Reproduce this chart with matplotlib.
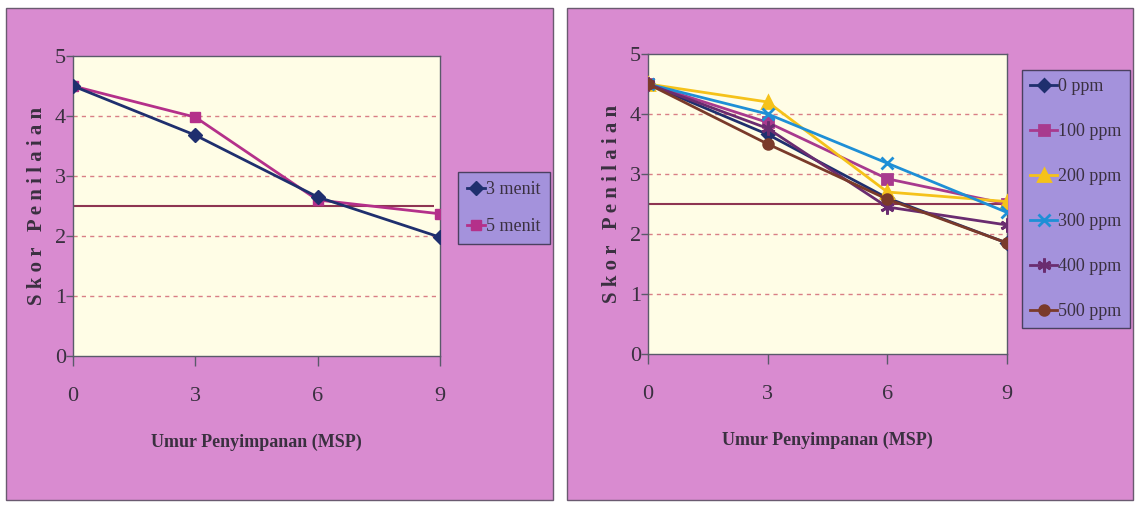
import matplotlib
matplotlib.use("Agg")
import matplotlib.pyplot as plt
from matplotlib.patches import Rectangle

# Storage age (weeks)
weeks = [0, 3, 6, 9]
x_ticklabels = ["0", "3", "6", "9"]
y_ticks = [0, 1, 2, 3, 4, 5]

# Left panel: blanching duration
menit_labels = ["3 menit", "5 menit"]
menit_3 = [4.5, 3.68, 2.65, 1.98]
menit_5 = [4.5, 3.98, 2.60, 2.37]

# Right panel: concentration
ppm_labels = ["0 ppm", "100 ppm", "200 ppm", "300 ppm", "400 ppm", "500 ppm"]
ppm_0 = [4.5, 3.66, 2.60, 1.85]
ppm_100 = [4.5, 3.86, 2.92, 2.50]
ppm_200 = [4.5, 4.20, 2.70, 2.54]
ppm_300 = [4.5, 4.00, 3.18, 2.36]
ppm_400 = [4.5, 3.76, 2.45, 2.15]
ppm_500 = [4.5, 3.50, 2.58, 1.85]

# Acceptance limit
limit = 2.5

BG = "#d98bd0"
PLOT_BG = "#fffde6"
LEG_BG = "#a492dc"
GRID = "#d97f86"
SPINE = "#5a5a6a"
LIMIT_C = "#8e3552"
TEXT_C = "#3a3040"
SERIF = ["Liberation Serif", "DejaVu Serif"]

fig = plt.figure(figsize=(11.36, 5.07), dpi=100)
fig.patch.set_facecolor("white")
W, H = 1136, 507


def fbox(x0, y0, x1, y1):
    return (x0 / W, 1 - y1 / H, (x1 - x0) / W, (y1 - y0) / H)


# Panel backgrounds
for (x0, y0, x1, y1) in [(6, 8, 553, 500), (567, 8, 1133, 500)]:
    l, b, w, h = fbox(x0, y0, x1, y1)
    fig.patches.append(Rectangle((l, b), w, h, transform=fig.transFigure,
                                 facecolor=BG, edgecolor="#6a5a70", lw=1.0, zorder=-10))


def style_axes(ax):
    ax.set_facecolor(PLOT_BG)
    ax.set_xlim(0, 9)
    ax.set_ylim(0, 5)
    ax.set_xticks(weeks)
    ax.set_xticklabels(x_ticklabels)
    ax.set_yticks(y_ticks)
    for y in y_ticks[1:5]:
        ax.axhline(y, color=GRID, lw=1.0, ls=(0, (3, 3)), zorder=1)
    for s in ax.spines.values():
        s.set_color(SPINE)
        s.set_linewidth(1.0)
    ax.tick_params(axis="x", length=7, width=1, color=SPINE, pad=15,
                   labelsize=16, labelcolor=TEXT_C)
    ax.tick_params(axis="y", length=5, width=1, color=SPINE, pad=0,
                   labelsize=16, labelcolor=TEXT_C)
    for t in ax.get_xticklabels() + ax.get_yticklabels():
        t.set_fontfamily(SERIF)
    ax.set_xlabel("Umur Penyimpanan (MSP)", fontsize=13, fontweight="bold",
                  family=SERIF, color=TEXT_C, labelpad=20)
    ax.set_ylabel("S k o r   P e n i l a i a n", fontsize=15, fontweight="bold",
                  family=SERIF, color=TEXT_C, labelpad=6)
    ax.hlines(limit, 0, 8.85, color=LIMIT_C, lw=1.5, zorder=2)


def legend(ax, anchor, spacing, hl, pad):
    leg = ax.legend(loc="upper left", bbox_to_anchor=anchor,
                    bbox_transform=fig.transFigure, frameon=True,
                    fancybox=False, handlelength=hl, handletextpad=0.05,
                    labelspacing=spacing, borderpad=pad, borderaxespad=0,
                    prop={"family": SERIF, "size": 13})
    fr = leg.get_frame()
    fr.set_facecolor(LEG_BG)
    fr.set_edgecolor("#4a4060")
    fr.set_alpha(1)
    for t in leg.get_texts():
        t.set_color(TEXT_C)


# Left chart
ax1 = fig.add_axes([73 / W, 1 - 356 / H, 367 / W, 300 / H])
style_axes(ax1)
ax1.plot(weeks, menit_3, color="#1f2f6e", marker="D", ms=7, lw=2, label=menit_labels[0], zorder=4)
ax1.plot(weeks, menit_5, color="#b4308a", marker="s", ms=7, lw=2, label=menit_labels[1], zorder=3)
legend(ax1, (458 / W, 1 - 172 / H), 1.1, 1.0, 0.5)

# Right chart
ax2 = fig.add_axes([648 / W, 1 - 354 / H, 359 / W, 300 / H])
style_axes(ax2)
series = [
    (ppm_0, "#1f2f6e", "D", 6),
    (ppm_100, "#a83a8e", "s", 7),
    (ppm_200, "#f5c21a", "^", 8),
    (ppm_300, "#1e8fd6", "x", 9),
    (ppm_400, "#6a2c70", (6, 2, 0), 10),
    (ppm_500, "#7a3a2a", "o", 7),
]
for (vals, c, m, ms), lab in zip(series, ppm_labels):
    ax2.plot(weeks, vals, color=c, marker=m, ms=ms, mew=2, lw=2, label=lab, zorder=3)
legend(ax2, (1022 / W, 1 - 70 / H), 1.55, 1.5, 0.45)

fig.savefig("out.png", dpi=100)
